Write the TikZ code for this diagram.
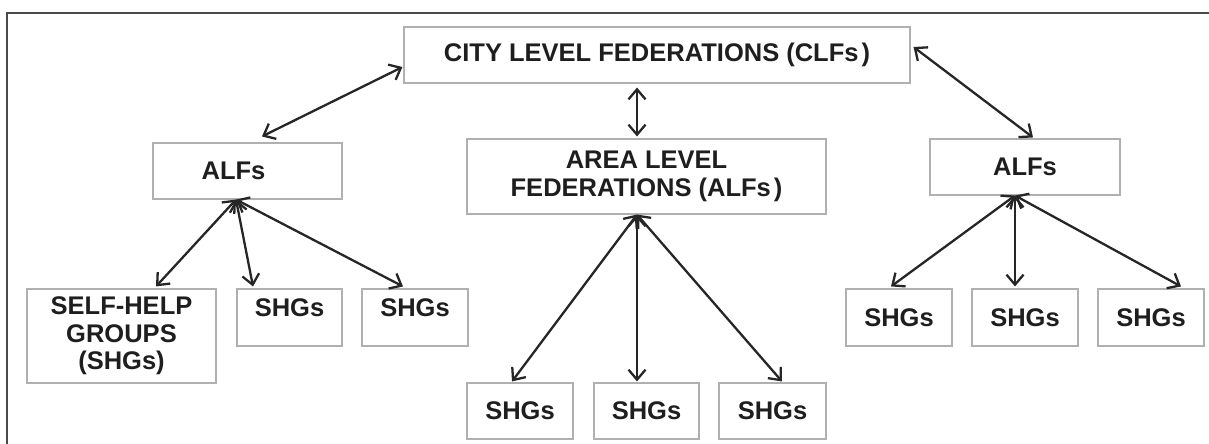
\documentclass[tikz,border=0pt]{standalone}
\usepackage{fontspec}
\setmainfont{Liberation Sans}
\usetikzlibrary{arrows.meta}
\definecolor{boxgray}{HTML}{B0B0B0}
\definecolor{linegray}{HTML}{262626}
\definecolor{framegray}{HTML}{4A4A4A}
\definecolor{txt}{HTML}{1E1E1E}
\begin{document}
\begin{tikzpicture}[x=1pt,y=-1pt,
  box/.style={draw=boxgray, line width=1.1pt, inner sep=0pt, font=\fontsize{25.5}{27.5}\selectfont\bfseries, text=txt, align=center},
  link/.style={draw=linegray, line width=2.3pt, {Straight Barb[length=10pt,width=17pt]}-{Straight Barb[length=10pt,width=17pt]}},
  uptext/.style={text depth=19pt}
]
\useasboundingbox (0,0) rectangle (1209,444);
\draw[framegray, line width=1.4pt] (7,444) -- (7,13) -- (1209,13);

\node[box, minimum width=506pt, minimum height=56pt] (clf) at (657,55) {CITY LEVEL FEDERATIONS (CLFs\kern3pt)};
\node[box, minimum width=189pt, minimum height=56pt] (alf1) at (247.5,171) {\hspace*{-28pt}ALFs};
\node[box, minimum width=359pt, minimum height=75pt] (alf2) at (646.5,176.5) {AREA LEVEL\\FEDERATIONS (ALFs\kern3pt)};
\node[box, minimum width=190pt, minimum height=56pt] (alf3) at (1025,167) {ALFs};

\node[box, minimum width=189pt, minimum height=94pt] (shg1) at (121.5,336) {SELF-HELP\\GROUPS\\(SHGs)};
\node[box, uptext, minimum width=105pt, minimum height=57pt] (shg2) at (289.5,317.5) {SHGs};
\node[box, uptext, minimum width=106pt, minimum height=57pt] (shg3) at (415,317.5) {SHGs};

\node[box, minimum width=106pt, minimum height=56pt] (shg4) at (520,411) {SHGs};
\node[box, minimum width=105pt, minimum height=56pt] (shg5) at (646.5,411) {SHGs};
\node[box, minimum width=107pt, minimum height=56pt] (shg6) at (772.5,411) {SHGs};

\node[box, minimum width=106pt, minimum height=57pt] (shg7) at (899,317.5) {SHGs};
\node[box, minimum width=106pt, minimum height=57pt] (shg8) at (1025,317.5) {SHGs};
\node[box, minimum width=106pt, minimum height=57pt] (shg9) at (1151,317.5) {SHGs};

\draw[link] ([xshift=-1pt,yshift=-12pt]clf.west) -- ([xshift=14.5pt,yshift=6pt]alf1.north);
\draw[link] ([xshift=-20pt,yshift=-4pt]clf.south) -- ([xshift=-9.5pt,yshift=2pt]alf2.north);
\draw[link] ([xshift=3pt,yshift=8pt]clf.east) -- ([xshift=8pt,yshift=1pt]alf3.north);

\draw[link] ([xshift=-11.5pt]alf1.south) -- ([xshift=34.5pt,yshift=2pt]shg1.north);
\draw[link] ([xshift=-11.5pt]alf1.south) -- ([xshift=-36.5pt,yshift=2pt]shg2.north);
\draw[link] ([xshift=-11.5pt]alf1.south) -- ([xshift=-12pt,yshift=2pt]shg3.north);

\draw[link] ([xshift=-9.5pt]alf2.south) -- ([xshift=-8pt,yshift=1pt]shg4.north);
\draw[link] ([xshift=-9.5pt]alf2.south) -- ([xshift=-9.5pt,yshift=1pt]shg5.north);
\draw[link] ([xshift=-9.5pt]alf2.south) -- ([xshift=9.5pt,yshift=1pt]shg6.north);

\draw[link] ([xshift=-10pt]alf3.south) -- ([xshift=-8pt,yshift=2pt]shg7.north);
\draw[link] ([xshift=-10pt]alf3.south) -- ([xshift=-10pt,yshift=2pt]shg8.north);
\draw[link] ([xshift=-10pt]alf3.south) -- ([xshift=30pt,yshift=2pt]shg9.north);
\end{tikzpicture}
\end{document}
